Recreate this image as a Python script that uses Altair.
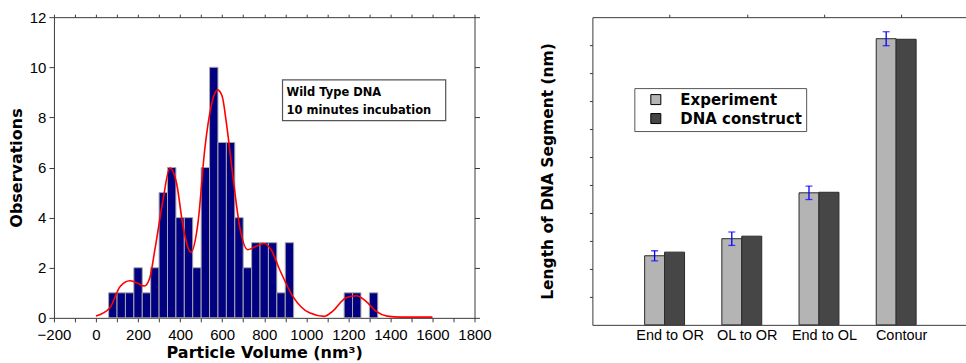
import altair as alt
import pandas as pd

# ---------------- Left panel: histogram ----------------
bin_start = [60, 100, 140, 180, 220, 260, 300, 340, 380, 420, 460, 500, 540,
             580, 620, 660, 700, 740, 780, 820, 860, 900, 1180, 1220, 1300]
counts = [1, 1, 1, 2, 1, 2, 5, 6, 4, 4, 2, 6, 10, 7, 7, 4, 2, 3, 3, 3, 1, 3, 1, 1, 1]
bin_width = 40

fit_x = [0, 66, 114, 161, 193, 230, 256, 280, 319, 351, 383, 414, 451, 485, 517,
         549, 578, 600, 620, 651, 683, 722, 762, 797, 833, 873, 936, 1015, 1086,
         1126, 1189, 1238, 1284, 1331, 1385, 1450, 1600]
fit_y = [0.07, 0.4, 1.24, 1.48, 1.4, 1.27, 1.6, 2.72, 4.72, 5.98, 5.38, 3.65, 2.62,
         3.79, 6.71, 8.5, 9.1, 8.84, 7.78, 5.65, 3.65, 2.72, 2.86, 2.97, 2.72, 1.93,
         0.86, 0.2, 0.06, 0.27, 0.8, 0.88, 0.66, 0.27, 0.07, 0.03, 0.03]

note_lines = ["Wild Type DNA", "10 minutes incubation"]
note_box_x = [887, 1663]
note_box_y = [7.87, 9.5]
note_text_x = 906
note_text_y = [8.84, 8.15]

# ---------------- Right panel: grouped bars ----------------
categories = ["End to OR", "OL to OR", "End to OL", "Contour"]
series_names = ["Experiment", "DNA construct"]
experiment = [2.47, 3.08, 4.72, 10.23]
construct = [2.60, 3.17, 4.74, 10.21]
exp_err = [0.18, 0.24, 0.24, 0.25]

DARK = "#3a3a3a"

axis_common = dict(
    domainColor=DARK, tickColor=DARK, grid=False,
    labelFont="Liberation Sans", labelFontSize=15, labelColor="black",
    titleFont="DejaVu Sans", titleFontWeight="bold", titleFontSize=16,
    titleColor="black",
)

lx = alt.Scale(domain=[-200, 1800], nice=False, zero=False)
ly = alt.Scale(domain=[0, 12], nice=False)

hist = pd.DataFrame({"start": bin_start, "count": counts})
hist["end"] = hist["start"] + bin_width
hist["base"] = 0

bars = alt.Chart(hist).mark_bar(color="#000080", stroke="#a8a8a8", strokeWidth=1).encode(
    x=alt.X("start:Q", scale=lx, axis=alt.Axis(
        title="Particle Volume (nm³)", values=list(range(-200, 1801, 100)),
        labelExpr="datum.value % 200 == 0 ? datum.label : ''", format="d",
        labelOverlap=False, labelFlush=False, labelBound=False,
        tickSize=4, labelPadding=6, titlePadding=2, **axis_common)),
    x2="end:Q",
    y=alt.Y("count:Q", scale=ly, axis=alt.Axis(
        title="Observations", values=list(range(0, 13, 2)), tickSize=5,
        labelFlush=False, labelPadding=3, titlePadding=5, **axis_common)),
    y2="base:Q",
)

fit = pd.DataFrame({"v": fit_x, "o": fit_y})
curve = alt.Chart(fit).mark_line(color="#ff0000", strokeWidth=1.6, interpolate="monotone").encode(
    x=alt.X("v:Q", scale=lx, axis=alt.Axis(
        orient="top", values=list(range(-200, 1801, 100)), labels=False, title=None,
        tickSize=3, **axis_common)),
    y=alt.Y("o:Q", scale=ly, axis=alt.Axis(
        orient="right", values=list(range(0, 13, 2)), labels=False, title=None,
        tickSize=5, **axis_common)),
)

box_df = pd.DataFrame({"x1": [note_box_x[0]], "x2": [note_box_x[1]],
                       "y1": [note_box_y[0]], "y2": [note_box_y[1]]})
box = alt.Chart(box_df).mark_rect(fill="white", stroke="#555555", strokeWidth=1.2).encode(
    x=alt.X("x1:Q", scale=lx, axis=None), x2="x2:Q",
    y=alt.Y("y1:Q", scale=ly, axis=None), y2="y2:Q",
)
txt_df = pd.DataFrame({"t": note_lines, "x": [note_text_x] * 2, "y": note_text_y})
txt = alt.Chart(txt_df).mark_text(
    align="left", baseline="alphabetic", font="DejaVu Sans", fontWeight="bold",
    fontSize=11.5, color="black").encode(
    x=alt.X("x:Q", scale=lx, axis=None),
    y=alt.Y("y:Q", scale=ly, axis=None),
    text="t:N",
)

left = alt.layer(bars, curve, box, txt).resolve_axis(
    x="independent", y="independent").properties(width=421, height=301)

# ---------------- Right panel ----------------
offsets = {"Experiment": (-0.323, -0.065), "DNA construct": (-0.065, 0.194)}
err_off = -0.194
rows = []
for i, c in enumerate(categories):
    for s, vals in zip(series_names, [experiment, construct]):
        rows.append({"cat": c, "series": s, "value": vals[i], "base": 0,
                     "x0": i + 1 + offsets[s][0], "x1": i + 1 + offsets[s][1]})
rdf = pd.DataFrame(rows)

edf = pd.DataFrame({"cat": categories,
                    "xe": [i + 1 + err_off for i in range(len(categories))],
                    "lo": [e - d for e, d in zip(experiment, exp_err)],
                    "hi": [e + d for e, d in zip(experiment, exp_err)]})

rx = alt.Scale(domain=[0, 4.84], nice=False, zero=False)
ry = alt.Scale(domain=[0, 11], nice=False)
label_expr = "[" + ",".join("'" + c + "'" for c in categories) + "][datum.value - 1]"

rbars = alt.Chart(rdf).mark_bar(stroke="#2a2a2a", strokeWidth=1).encode(
    x=alt.X("x0:Q", scale=rx, axis=alt.Axis(
        values=[1, 2, 3, 4], labelExpr=label_expr, ticks=False, title=None,
        labelPadding=4, labelOverlap=False, labelFlush=False, domainColor=DARK,
        grid=False, labelFont="Liberation Sans", labelFontSize=14.5,
        labelColor="black")),
    x2="x1:Q",
    y=alt.Y("value:Q", scale=ry, axis=alt.Axis(
        title="Length of DNA Segment (nm)", values=list(range(1, 11)), labels=False,
        tickSize=3, titlePadding=33, domainColor=DARK, tickColor=DARK, grid=False,
        titleFont="DejaVu Sans", titleFontWeight="bold", titleFontSize=15.5,
        titleColor="black")),
    y2="base:Q",
    color=alt.Color("series:N", scale=alt.Scale(domain=series_names,
                                                range=["#b4b4b4", "#464646"]),
                    legend=alt.Legend(
                        title=None, orient="none", legendX=581, legendY=71,
                        direction="vertical", symbolType="square", symbolSize=100,
                        symbolStrokeColor="black", symbolStrokeWidth=1,
                        labelFont="DejaVu Sans", labelFontWeight="bold",
                        labelFontSize=15, labelColor="black", padding=4,
                        symbolOffset=10, labelOffset=17, rowPadding=3,
                        strokeColor="#555555", fillColor="white")),
)

err_rule = alt.Chart(edf).mark_rule(color="#0000ff", strokeWidth=1.3).encode(
    x=alt.X("xe:Q", scale=rx, axis=alt.Axis(
        orient="top", values=[1, 2, 3, 4], labels=False, title=None, tickSize=3,
        domainColor=DARK, tickColor=DARK, grid=False)),
    y=alt.Y("lo:Q", scale=ry, axis=None), y2="hi:Q",
)
caps = alt.Chart(edf).transform_fold(["lo", "hi"], as_=["k", "yv"]).mark_tick(
    orient="horizontal", size=7, thickness=1.3, color="#0000ff").encode(
    x=alt.X("xe:Q", scale=rx, axis=None),
    y=alt.Y("yv:Q", scale=ry, axis=None),
)

right = alt.layer(rbars, err_rule, caps).resolve_axis(
    x="independent", y="independent").properties(width=374, height=308)

chart = alt.hconcat(left, right, spacing=118, bounds="flush").configure_view(
    stroke=None).properties(padding={"left": 8, "top": 10, "right": 0, "bottom": 0})

chart.save("out.html", embed_options={"renderer": "svg", "actions": False})
